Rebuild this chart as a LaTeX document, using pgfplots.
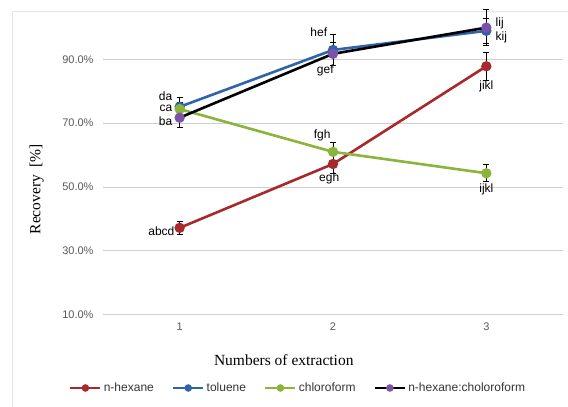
\documentclass[border=0pt]{standalone}
\usepackage{fontspec}
\setmainfont{Liberation Sans}
\newfontfamily\serifax{Liberation Serif}
\usepackage{pgfplots}
\pgfplotsset{compat=1.18}
\definecolor{cred}{HTML}{A8282B}
\definecolor{cblue}{HTML}{2F64AA}
\definecolor{cgreen}{HTML}{8AB43A}
\definecolor{cpurp}{HTML}{7A52A8}
\definecolor{gridc}{HTML}{CFCFCF}
\definecolor{tickc}{HTML}{595959}
\begin{document}
\begin{tikzpicture}
\useasboundingbox (0,0) rectangle (568pt,407pt);
\fill[white] (0,0) rectangle (568pt,407pt);
\draw[gray!20, line width=1pt] (12pt,-2pt) -- (12pt,395pt) -- (570pt,395pt);
\begin{axis}[
  at={(103pt,92.3pt)}, anchor=south west,
  scale only axis, width=460pt, height=287.4pt,
  xmin=0.5, xmax=3.5, ymin=10, ymax=100,
  clip=false,
  axis line style={draw=none},
  xtick={1,2,3}, xticklabels={1,2,3},
  ytick={10,30,50,70,90},
  yticklabels={10.0\%,30.0\%,50.0\%,70.0\%,90.0\%},
  major tick length=0pt,
  ymajorgrids, grid style={gridc, line width=0.9pt},
  ticklabel style={font=\fontsize{11}{12}\selectfont, text=tickc},
  yticklabel style={xshift=-6pt},
  xticklabel style={yshift=-5pt},
  xlabel={\serifax Numbers of extraction},
  ylabel={\serifax Recovery\ \ [\%]},
  label style={font=\fontsize{15.5}{17}\selectfont},
  xlabel style={at={(axis description cs:0.393,-0.157)}, anchor=center},
  ylabel style={at={(axis description cs:-0.144,0.437)}, anchor=center},
  legend columns=4,
  legend style={at={(0.424,-0.255)}, anchor=center, draw=none,
    font=\fontsize{12}{13}\selectfont, text=tickc!60!black,
    /tikz/every even column/.append style={column sep=16pt}},
  legend image code/.code={
    \draw[#1, mark=none, line width=2.8pt] (0pt,0pt) -- (30pt,0pt);
    \draw[#1, draw opacity=0] plot coordinates {(15pt,0pt)};
  },
  every axis plot/.append style={line width=2.6pt, mark=*, mark size=3.8pt,
    error bars/y dir=both, error bars/y explicit,
    error bars/error bar style={black, line width=0.9pt},
    error bars/error mark options={black, rotate=90, mark size=3pt, line width=0.9pt}},
]
\addplot[cred, mark options={fill=cred, draw=cred}] coordinates {
  (1,37.2) +- (0,2.0)
  (2,57.2) +- (0,3.0)
  (3,87.8) +- (0,4.4)
};
\addlegendentry{n-hexane}
\addplot[cblue, mark options={fill=cblue, draw=cblue}] coordinates {
  (1,75.1) +- (0,3.0)
  (2,92.9) +- (0,5.0)
  (3,98.9) +- (0,4.0)
};
\addlegendentry{toluene}
\addplot[cgreen, mark options={fill=cgreen, draw=cgreen}] coordinates {
  (1,74.4) +- (0,2.0)
  (2,61.0) +- (0,3.0)
  (3,54.3) +- (0,2.7)
};
\addlegendentry{chloroform}
\addplot[black, mark options={fill=cpurp, draw=cpurp}] coordinates {
  (1,71.7) +- (0,3.0)
  (2,91.7) +- (0,3.5)
  (3,99.9) +- (0,5.7)
};
\addlegendentry{n-hexane:choloroform}
\begin{scope}[every node/.style={font=\fontsize{12}{13}\selectfont, inner sep=0pt, text=black}]
\node[anchor=east] at (axis cs:0.953,78.4) {da};
\node[anchor=east] at (axis cs:0.953,74.5) {ca};
\node[anchor=east] at (axis cs:0.953,70.6) {ba};
\node[anchor=east] at (axis cs:0.967,36.3) {abcd};
\node[anchor=east] at (axis cs:1.963,98.5) {hef};
\node at (axis cs:1.95,86.4) {gef};
\node[anchor=east] at (axis cs:1.985,66.3) {fgh};
\node at (axis cs:1.975,52.7) {egh};
\node[anchor=west] at (axis cs:3.06,101.3) {lij};
\node[anchor=west] at (axis cs:3.06,96.8) {kij};
\node at (axis cs:3,81.4) {jikl};
\node at (axis cs:3,49.2) {ijkl};
\end{scope}
\end{axis}
\end{tikzpicture}
\end{document}
